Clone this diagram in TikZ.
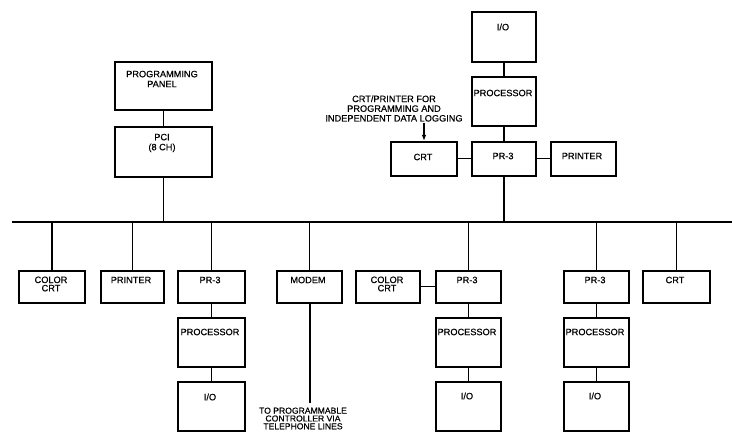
\documentclass[tikz,border=0pt]{standalone}
\usepackage{fontspec}
\setmainfont[FakeBold=0.5]{Liberation Sans}
\usetikzlibrary{arrows.meta}
\newcommand\mkbox[5]{\node[box, minimum width={#4-#2}, minimum height={#5-#3}] (#1) at (#2,#3) {};}
\begin{document}
\begin{tikzpicture}[x=1pt,y=-1pt,
 box/.style={draw, line width=1.7pt, rectangle, inner sep=0pt, anchor=north west},
 txt/.style={font=\fontsize{9.2}{10}\selectfont, align=center, inner sep=0pt},
 tight/.style={font=\fontsize{9.2}{8.3}\selectfont, align=center, inner sep=0pt},
 note/.style={font=\fontsize{8.6}{7.8}\selectfont, align=center, inner sep=0pt},
 link/.style={line width=1.3pt},
 busline/.style={line width=1.8pt},
]
\useasboundingbox (0,0) rectangle (732,441);
% boxes
\mkbox{pp}{114}{61}{211}{109}
\mkbox{pci}{114}{126}{211}{176}
\mkbox{ioA}{471}{11}{535}{61}
\mkbox{pcA}{471}{76}{535}{125}
\mkbox{prA}{471}{141}{535}{175}
\mkbox{crtA}{390}{141}{456}{175}
\mkbox{prnA}{550}{141}{615}{175}
\mkbox{ccB}{18}{270}{84}{302}
\mkbox{prnB}{100}{270}{163}{302}
\mkbox{prB}{177}{270}{244}{302}
\mkbox{pcB}{177}{317}{244}{366}
\mkbox{ioB}{177}{381}{244}{430}
\mkbox{modem}{276}{270}{341}{302}
\mkbox{ccC}{355}{270}{419}{302}
\mkbox{prC}{435}{270}{500}{302}
\mkbox{pcC}{435}{317}{500}{366}
\mkbox{ioC}{435}{381}{500}{430}
\mkbox{prD}{563}{270}{628}{302}
\mkbox{pcD}{563}{317}{628}{366}
\mkbox{ioD}{563}{381}{628}{430}
\mkbox{crtD}{642}{270}{709}{302}
% texts
\node[txt] (ppT) at (162,79) {PROGRAMMING\\PANEL};
\node[txt] (pciT) at (162,143) {PCI\\(8 CH)};
\node[txt] (ioAT) at (503,27) {I/O};
\node[txt] (pcAT) at (503,93) {PROCESSOR};
\node[txt] (prAT) at (503,156) {PR-3};
\node[txt] (crtAT) at (423,157) {CRT};
\node[txt] (prnAT) at (582,156) {PRINTER};
\node[tight] (ccBT) at (51,284) {COLOR\\CRT};
\node[txt] (prnBT) at (131,280) {PRINTER};
\node[txt] (prBT) at (210,280) {PR-3};
\node[txt] (pcBT) at (210,332) {PROCESSOR};
\node[txt] (ioBT) at (210,397) {I/O};
\node[txt] (modemT) at (308,280) {MODEM};
\node[tight] (ccCT) at (387,284) {COLOR\\CRT};
\node[txt] (prCT) at (467,280) {PR-3};
\node[txt] (pcCT) at (467,332) {PROCESSOR};
\node[txt] (ioCT) at (467,396) {I/O};
\node[txt] (prDT) at (595,280) {PR-3};
\node[txt] (pcDT) at (595,332) {PROCESSOR};
\node[txt] (ioDT) at (595,396) {I/O};
\node[txt] (crtDT) at (675,280) {CRT};
\node[txt, font=\fontsize{9.2}{9.7}\selectfont] (noteA) at (394,108.5) {CRT/PRINTER FOR\\PROGRAMMING AND\\INDEPENDENT DATA LOGGING};
\node[note] (noteB) at (303,418.5) {TO PROGRAMMABLE\\CONTROLLER VIA\\TELEPHONE LINES};
% bus
\coordinate (busL) at (12,222);
\coordinate (busR) at (732,222);
\draw[busline] (busL) -- (busR);
% links
\draw[link] (pp.south) -- (pci.north);
\draw[link] (pci.south) -- (pci.south |- busL);
\draw[link] (ioA.south) -- (pcA.north);
\draw[link] (pcA.south) -- (prA.north);
\draw[link] (prA.south) -- (prA.south |- busL);
\draw[link] (crtA.east) -- (prA.west);
\draw[link] (prA.east) -- (prnA.west);
\foreach \n in {ccB,prnB,prB,modem,prC,prD,crtD}{
  \draw[link] (\n.north) -- (\n.north |- busL);
}
\draw[link] (prB.south) -- (pcB.north);
\draw[link] (pcB.south) -- (ioB.north);
\draw[link] (prC.south) -- (pcC.north);
\draw[link] (pcC.south) -- (ioC.north);
\draw[link] (prD.south) -- (pcD.north);
\draw[link] (pcD.south) -- (ioD.north);
\draw[link] (ccC.east) -- (prC.west);
\coordinate (tel) at (310,403);
\draw[link] (modem.south -| tel) -- (tel);
\coordinate (arrS) at (424,123);
\draw[link, -{Latex[length=6pt,width=4.5pt]}] (arrS) -- (crtA.north -| arrS);
\end{tikzpicture}
\end{document}
